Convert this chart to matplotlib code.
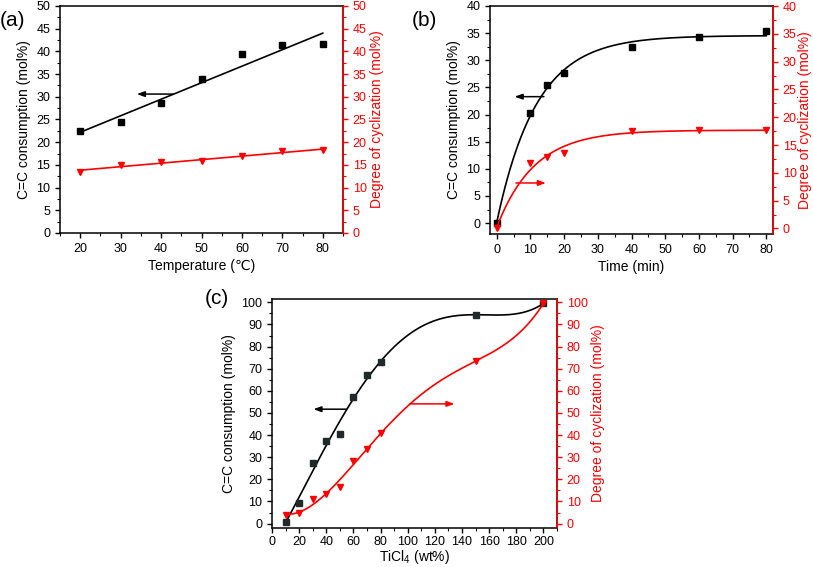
import numpy as np
import matplotlib
matplotlib.use('Agg')
from matplotlib import pyplot as plt
from matplotlib.ticker import MultipleLocator

plt.rcParams['font.family'] = ['Liberation Sans', 'DejaVu Sans']
plt.rcParams['font.size'] = 9
plt.rcParams['mathtext.fontset'] = 'custom'
plt.rcParams['mathtext.rm'] = 'Liberation Sans'

# (a) temperature series
temp = [20, 30, 40, 50, 60, 70, 80]
temp_cc = [22.5, 24.4, 28.6, 33.9, 39.4, 41.3, 41.6]
temp_cyc = [13.5, 14.9, 15.6, 15.9, 17.0, 18.0, 18.2]

# (b) time series
time_min = [0, 10, 15, 20, 40, 60, 80]
time_cc = [0.0, 20.2, 25.4, 27.6, 32.5, 34.3, 35.4]
time_cyc = [0.0, 11.7, 12.9, 13.5, 17.6, 17.7, 17.7]

# (c) TiCl4 series
ticl4 = [10, 20, 30, 40, 50, 60, 70, 80, 150, 200]
ticl4_cc = [0.6, 9.5, 27.6, 37.3, 40.4, 57.4, 67.3, 73.0, 94.3, 99.5]
ticl4_cyc = [3.9, 4.7, 11.0, 13.3, 16.7, 28.3, 33.6, 41.1, 73.3, 99.5]

RED = '#ff0000'


def exp_fit(x, y):
    # y = y0 + A * (1 - exp(-x / t)); grid search on t, y0 and A by least squares
    x = np.asarray(x, float)
    y = np.asarray(y, float)
    best = None
    for t in np.linspace(1, 60, 1200):
        g = 1 - np.exp(-x / t)
        m = np.column_stack([np.ones_like(g), g])
        coef, *_ = np.linalg.lstsq(m, y, rcond=None)
        err = np.sum((m @ coef - y) ** 2)
        if best is None or err < best[0]:
            best = (err, coef, t)
    y0, a = best[1]
    t = best[2]
    return lambda xx: y0 + a * (1 - np.exp(-xx / t))


def style_axes(ax, ax2, xmaj, xmin, ymaj, ymin, y2maj, y2min):
    ax.xaxis.set_major_locator(MultipleLocator(xmaj))
    ax.xaxis.set_minor_locator(MultipleLocator(xmin))
    ax.yaxis.set_major_locator(MultipleLocator(ymaj))
    ax.yaxis.set_minor_locator(MultipleLocator(ymin))
    ax2.yaxis.set_major_locator(MultipleLocator(y2maj))
    ax2.yaxis.set_minor_locator(MultipleLocator(y2min))
    ax.tick_params(which='major', direction='out', length=3.5, width=1)
    ax.tick_params(which='minor', direction='out', length=2, width=0.8)
    ax.tick_params(axis='x', top=False, which='both')
    ax.tick_params(axis='y', right=False, which='both')
    ax2.tick_params(which='major', direction='out', length=3.5, width=1, colors=RED)
    ax2.tick_params(which='minor', direction='out', length=2, width=0.8, colors=RED)
    for sp in ax.spines.values():
        sp.set_linewidth(1.1)
    for sp in ax2.spines.values():
        sp.set_linewidth(1.1)
    ax2.spines['right'].set_color(RED)
    ax2.spines['left'].set_visible(False)
    ax2.spines['bottom'].set_visible(False)
    ax2.spines['top'].set_visible(False)


def arrow(ax, x0, x1, y, color):
    ax.annotate('', xy=(x1, y), xytext=(x0, y),
                arrowprops=dict(arrowstyle='-|>,head_length=0.5,head_width=0.18',
                                color=color, lw=1.1, shrinkA=0, shrinkB=0))


fig = plt.figure(figsize=(8.13, 5.67), dpi=100)

# ---- (a)
ax = fig.add_axes([60 / 813, 1 - 233 / 567, 283 / 813, 227 / 567])
ax2 = ax.twinx()
p = np.polyfit(temp, temp_cc, 1)
xs = np.array([temp[0], temp[-1]])
ax.plot(xs, np.polyval(p, xs), color='k', lw=1.2)
ax.plot(temp, temp_cc, 's', color='k', ms=4)
p = np.polyfit(temp, temp_cyc, 1)
ax2.plot(xs, np.polyval(p, xs), color=RED, lw=1.2)
ax2.plot(temp, temp_cyc, 'v', color=RED, ms=5)
arrow(ax, 43, 34, 30.6, 'k')
ax.set_xlim(15, 85)
ax.set_ylim(0, 50)
ax2.set_ylim(0, 50)
style_axes(ax, ax2, 10, 5, 5, 2.5, 5, 2.5)
ax.set_xlabel('Temperature (℃)', fontsize=10, labelpad=3)
ax.set_ylabel('C=C consumption (mol%)', fontsize=10)
ax2.set_ylabel('Degree of cyclization (mol%)', fontsize=10, color=RED, labelpad=2)
fig.text(0.0, 1 - 20 / 567, '(a)', fontsize=15, va='center')

# ---- (b)
ax = fig.add_axes([490 / 813, 1 - 234 / 567, 283 / 813, 228 / 567])
ax2 = ax.twinx()
xs = np.linspace(0, 80, 300)
f = exp_fit(time_min, time_cc)
ax.plot(xs, f(xs), color='k', lw=1.2)
ax.plot(time_min, time_cc, 's', color='k', ms=4)
f = exp_fit(time_min, time_cyc)
ax2.plot(xs, f(xs), color=RED, lw=1.2)
ax2.plot(time_min, time_cyc, 'v', color=RED, ms=5)
arrow(ax, 14, 5.3, 23.3, 'k')
arrow(ax, 5.7, 14.6, 7.4, RED)
ax.set_xlim(-2, 82)
ax.set_ylim(-2, 40)
ax2.set_ylim(-1, 40)
style_axes(ax, ax2, 10, 5, 5, 2.5, 5, 2.5)
ax.set_xlabel('Time (min)', fontsize=10, labelpad=3)
ax.set_ylabel('C=C consumption (mol%)', fontsize=10)
ax2.set_ylabel('Degree of cyclization (mol%)', fontsize=10, color=RED, labelpad=1)
fig.text(412 / 813, 1 - 20 / 567, '(b)', fontsize=15, va='center')

# ---- (c)
ax = fig.add_axes([272 / 813, 1 - 528 / 567, 285 / 813, 229 / 567])
ax2 = ax.twinx()
xs = np.linspace(10, 200, 400)
p = np.polyfit(ticl4, ticl4_cc, 4)
ax.plot(xs, np.polyval(p, xs), color='k', lw=1.2)
ax.plot(ticl4, ticl4_cc, 's', color='#1f2a2a', ms=4)
p = np.polyfit(ticl4, ticl4_cyc, 4)
ax2.plot(xs, np.polyval(p, xs), color=RED, lw=1.2)
ax2.plot(ticl4, ticl4_cyc, 'v', color=RED, ms=5)
arrow(ax, 55, 30.5, 51.7, 'k')
arrow(ax, 101.5, 134.5, 54.1, RED)
ax.set_xlim(0, 210)
ax.set_ylim(-2, 101.5)
ax2.set_ylim(-2, 101.5)
style_axes(ax, ax2, 20, 10, 10, 5, 10, 5)
ax.tick_params(axis='x', which='major', pad=2.5)
ax.set_xlabel('TiCl$_4$ (wt%)', fontsize=10, labelpad=0)
ax.set_ylabel('C=C consumption (mol%)', fontsize=10)
ax2.set_ylabel('Degree of cyclization (mol%)', fontsize=10, color=RED, labelpad=2)
fig.text(205 / 813, 1 - 298 / 567, '(c)', fontsize=15, va='center')

fig.savefig('out.png', dpi=100)
